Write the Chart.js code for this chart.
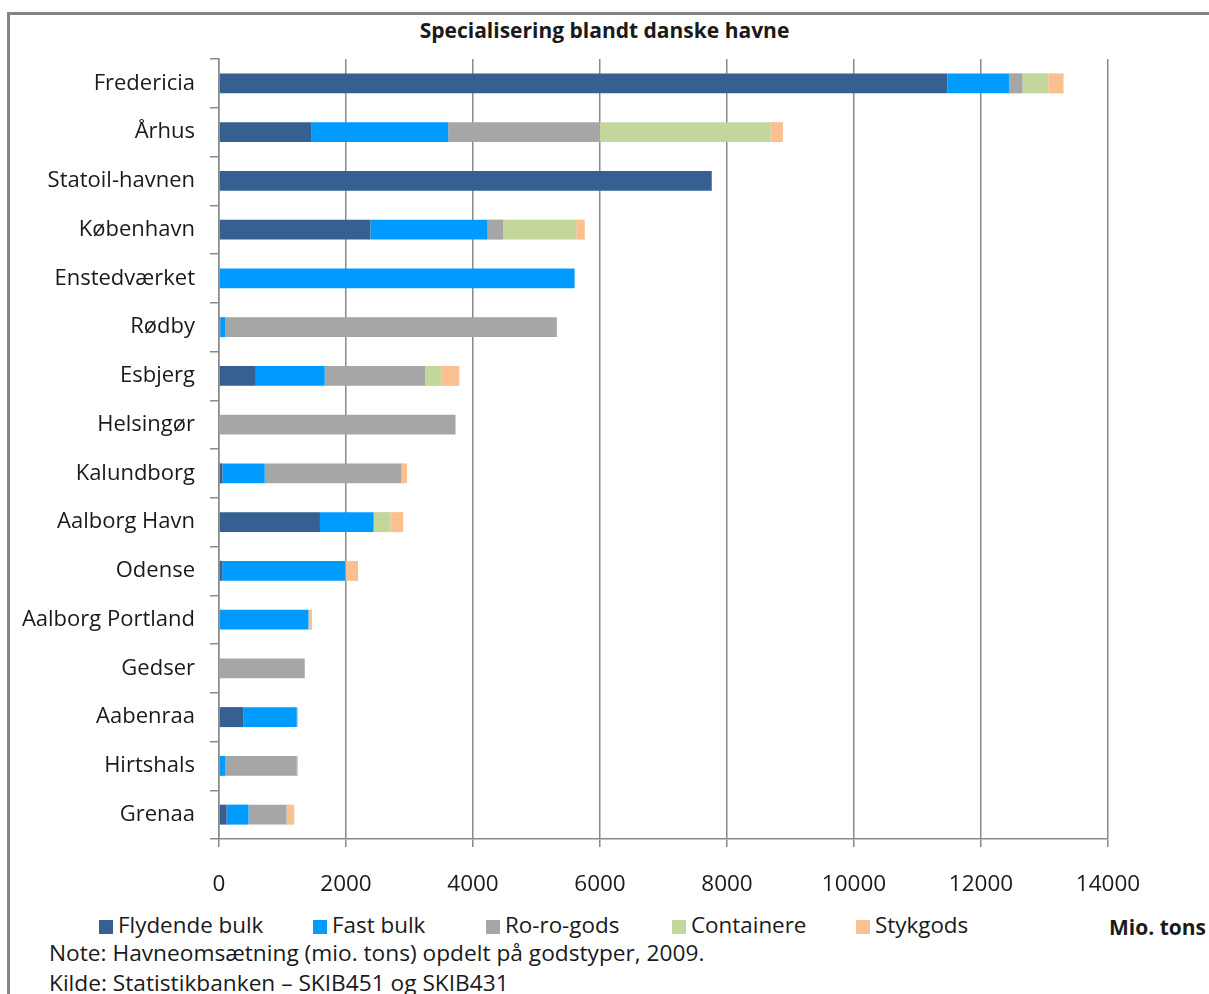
<!DOCTYPE html>
<html lang="da">
<head>
<meta charset="utf-8">
<title>Specialisering blandt danske havne</title>
<script src="https://cdn.jsdelivr.net/npm/chart.js@4/dist/chart.umd.min.js"></script>
<style>
  html, body { margin: 0; padding: 0; background: #fff; }
  body { width: 1209px; height: 994px; position: relative; overflow: hidden;
         font-family: "Open Sans", sans-serif; color: #1a1a1a; }
  #frame { position: absolute; left: 7px; top: 12px; width: 1210px; height: 990px;
           border-left: 3px solid #858585; border-top: 3px solid #858585; }
  #title { position: absolute; left: 0; width: 1209px; top: 15px; text-align: center;
           font-weight: bold; font-size: 21px; line-height: 30px; }
  #chart { position: absolute; left: 0; top: 0; }
  .leg { position: absolute; top: 911px; font-size: 22.4px; line-height: 28px; white-space: nowrap; }
  .leg i { display: inline-block; width: 14px; height: 14px; margin-right: 5px; vertical-align: -1px; }
  #unit { position: absolute; left: 1109px; top: 913px; font-weight: bold; font-size: 21px; line-height: 28px; }
  .foot { position: absolute; left: 49px; font-size: 22.7px; line-height: 28px; white-space: nowrap; }
</style>
</head>
<body>
<div id="frame"></div>
<div id="title">Specialisering blandt danske havne</div>
<canvas id="chart" width="1160" height="900"></canvas>
<div id="legend"></div>
<div id="unit">Mio. tons</div>
<div class="foot" style="top:939px">Note: Havneomsætning (mio. tons) opdelt på godstyper, 2009.</div>
<div class="foot" style="top:969px">Kilde: Statistikbanken – SKIB451 og SKIB431</div>
<script>
// Havne, sorteret efter samlet omsætning
const havne = ["Fredericia", "Århus", "Statoil-havnen", "København", "Enstedværket", "Rødby",
  "Esbjerg", "Helsingør", "Kalundborg", "Aalborg Havn", "Odense", "Aalborg Portland",
  "Gedser", "Aabenraa", "Hirtshals", "Grenaa"];

// Godstyper
const godstyper = ["Flydende bulk", "Fast bulk", "Ro-ro-gods", "Containere", "Stykgods"];

// Omsætning pr. godstype (mio. tons), samme rækkefølge som havne
const flydendeBulk = [11470, 1450, 7760, 2385, 0, 20, 580, 0, 55, 1590, 50, 0, 0, 380, 0, 120];
const fastBulk     = [970, 2160, 0, 1845, 5600, 80, 1085, 0, 665, 845, 1940, 1410, 0, 845, 95, 345];
const roRoGods     = [215, 2390, 0, 245, 0, 5220, 1580, 3725, 2155, 0, 0, 0, 1350, 0, 1130, 600];
const containere   = [405, 2685, 0, 1150, 0, 0, 255, 0, 0, 265, 0, 0, 0, 0, 0, 0];
const stykgods     = [240, 195, 0, 135, 0, 0, 285, 0, 85, 200, 200, 55, 0, 20, 20, 120];

// Akseinddeling
const xTicks = [0, 2000, 4000, 6000, 8000, 10000, 12000, 14000];

const farver = ["#376092", "#009BFF", "#A6A6A6", "#C3D69B", "#FAC090"];
const serier = [flydendeBulk, fastBulk, roRoGods, containere, stykgods];

const gridColor = "#8a8a8a";
const textColor = "#1a1a1a";

const datasets = godstyper.map((navn, i) => ({
  label: navn,
  data: serier[i],
  backgroundColor: farver[i],
  borderWidth: 0,
  barPercentage: 0.41,
  categoryPercentage: 1.0
}));

new Chart(document.getElementById("chart"), {
  type: "bar",
  data: { labels: havne, datasets },
  options: {
    indexAxis: "y",
    responsive: false,
    devicePixelRatio: 1,
    animation: false,
    layout: { padding: { top: 59, right: 52, left: 0, bottom: 0 } },
    plugins: {
      legend: { display: false },
      title: { display: false },
      tooltip: { enabled: false }
    },
    scales: {
      x: {
        type: "linear",
        stacked: true,
        min: xTicks[0],
        max: xTicks[xTicks.length - 1],
        afterBuildTicks: s => { s.ticks = xTicks.map(v => ({ value: v })); },
        afterFit: s => { s.height = 61; s.paddingLeft = 0; s.paddingRight = 0; },
        grid: { color: gridColor, lineWidth: 1.5, tickLength: 8, drawOnChartArea: true },
        border: { color: gridColor, width: 1.5 },
        ticks: {
          color: textColor,
          padding: 24,
          maxRotation: 0,
          font: { family: "'Open Sans'", size: 22.5 },
          callback: v => String(v)
        }
      },
      y: {
        type: "category",
        stacked: true,
        afterFit: s => { s.width = 219; s.paddingTop = 0; s.paddingBottom = 0; },
        grid: { color: gridColor, lineWidth: 1.5, tickLength: 9, drawOnChartArea: false, offset: true },
        border: { color: gridColor, width: 1.5 },
        ticks: {
          color: textColor,
          padding: 15,
          font: { family: "'Open Sans'", size: 22 }
        }
      }
    }
  }
});

// Forklaring under diagrammet
const legendLeft = [99, 313, 486, 672, 856];
const legendEl = document.getElementById("legend");
godstyper.forEach((navn, i) => {
  const item = document.createElement("div");
  item.className = "leg";
  item.style.left = legendLeft[i] + "px";
  const sw = document.createElement("i");
  sw.style.background = farver[i];
  item.appendChild(sw);
  item.appendChild(document.createTextNode(navn));
  legendEl.appendChild(item);
});
</script>
</body>
</html>
